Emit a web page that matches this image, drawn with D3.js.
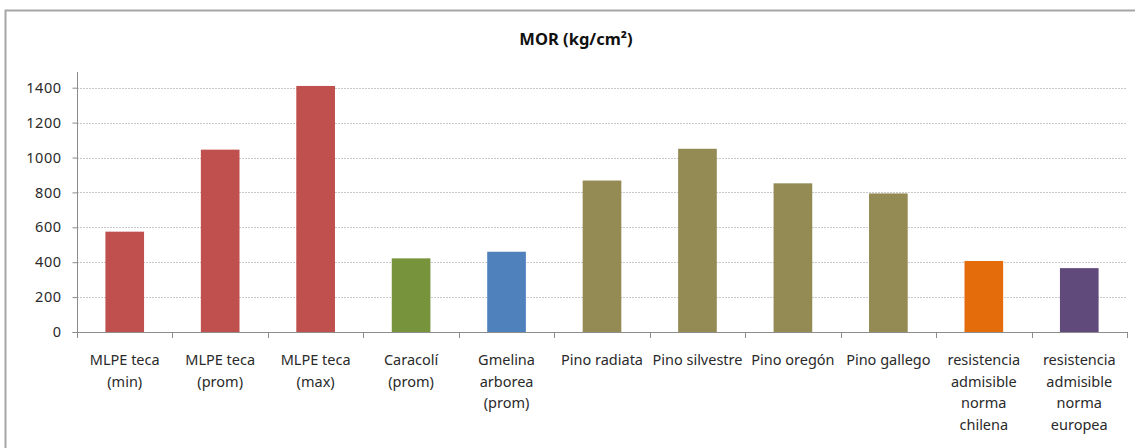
<!DOCTYPE html>
<html>
<head>
<meta charset="utf-8">
<script src="https://cdn.jsdelivr.net/npm/d3@7"></script>
<style>
  html, body { margin: 0; padding: 0; background: #fff; }
  svg { display: block; }
</style>
</head>
<body>
<svg id="chart" width="1135" height="448"></svg>
<script>
// Wood species and reference strengths (modulus of rupture)
const categories = [
  ["MLPE teca", "(min)"],
  ["MLPE teca", "(prom)"],
  ["MLPE teca", "(max)"],
  ["Caracolí", "(prom)"],
  ["Gmelina", "arborea", "(prom)"],
  ["Pino radiata"],
  ["Pino silvestre"],
  ["Pino oregón"],
  ["Pino gallego"],
  ["resistencia", "admisible", "norma", "chilena"],
  ["resistencia", "admisible", "norma", "europea"]
];
const values = [575, 1045, 1410, 422, 460, 868, 1050, 852, 794, 407, 366];
const colors = ["#C0504D", "#C0504D", "#C0504D", "#77933C", "#4F81BD",
                "#948A54", "#948A54", "#948A54", "#948A54", "#E46C0A", "#604A7B"];
const yTicks = [0, 200, 400, 600, 800, 1000, 1200, 1400];
const title = "MOR (kg/cm²)";

const svg = d3.select("#chart");
const font = "'Noto Sans', 'DejaVu Sans', sans-serif";

// outer chart frame (top and left edges visible)
svg.append("path")
  .attr("d", "M5.5,448 L5.5,10.5 L1135,10.5")
  .attr("fill", "none")
  .attr("stroke", "#a6a6a6")
  .attr("stroke-width", 2);

const left = 77, right = 1127, bottom = 332, axisTop = 72;

const x = d3.scaleBand()
  .domain(d3.range(categories.length))
  .range([left, right])
  .paddingInner(0.595)
  .paddingOuter(0.2975);

const band = d3.scaleBand()
  .domain(d3.range(categories.length))
  .range([left, right]);

const y = d3.scaleLinear()
  .domain([0, 1400])
  .range([bottom, bottom - 7 * 34.9]);

// dotted horizontal gridlines
svg.append("g")
  .selectAll("line")
  .data(yTicks.filter(d => d > 0))
  .join("line")
  .attr("x1", left)
  .attr("x2", right)
  .attr("y1", d => Math.round(y(d)) + 0.5)
  .attr("y2", d => Math.round(y(d)) + 0.5)
  .attr("stroke", "#c8c8c8")
  .attr("stroke-width", 1)
  .attr("stroke-dasharray", "2,1");

// bars
svg.append("g")
  .selectAll("rect")
  .data(values)
  .join("rect")
  .attr("x", (d, i) => x(i))
  .attr("width", x.bandwidth())
  .attr("y", d => y(d))
  .attr("height", d => bottom - y(d))
  .attr("fill", (d, i) => colors[i]);

// y axis
const yAxis = svg.append("g")
  .attr("transform", `translate(${left + 0.5},0)`)
  .call(d3.axisLeft(y).tickValues(yTicks).tickFormat(d3.format("d")).tickSize(5).tickPadding(11));
yAxis.select(".domain").attr("d", `M-5,${bottom + 0.5}H0V${axisTop}`);
yAxis.selectAll("line").attr("stroke", "#8c8c8c");
yAxis.select(".domain").attr("stroke", "#8c8c8c");
yAxis.selectAll("text")
  .attr("font-family", font)
  .attr("font-size", 14.5)
  .attr("letter-spacing", 0.5)
  .attr("fill", "#2a2a2a");

// x axis with category boundary ticks
const xAxisG = svg.append("g");
xAxisG.append("line")
  .attr("x1", left).attr("x2", right)
  .attr("y1", bottom + 0.5).attr("y2", bottom + 0.5)
  .attr("stroke", "#8c8c8c");
xAxisG.selectAll("line.tick")
  .data(d3.range(categories.length + 1))
  .join("line")
  .attr("class", "tick")
  .attr("x1", i => Math.round(left + i * band.bandwidth()) + 0.5)
  .attr("x2", i => Math.round(left + i * band.bandwidth()) + 0.5)
  .attr("y1", bottom)
  .attr("y2", bottom + 6)
  .attr("stroke", "#8c8c8c");

// category labels
const labels = svg.append("g")
  .attr("font-family", font)
  .attr("font-size", 14.5)
  .attr("fill", "#2a2a2a")
  .attr("text-anchor", "middle");
categories.forEach((lines, i) => {
  const t = labels.append("text")
    .attr("x", band(i) + band.bandwidth() / 2)
    .attr("y", 365);
  lines.forEach((ln, j) => {
    t.append("tspan")
      .attr("x", band(i) + band.bandwidth() / 2)
      .attr("dy", j === 0 ? 0 : 21.5)
      .text(ln);
  });
});

// title
svg.append("text")
  .attr("x", 576)
  .attr("y", 45)
  .attr("text-anchor", "middle")
  .attr("font-family", font)
  .attr("font-size", 16.5)
  .attr("font-weight", "bold")
  .attr("fill", "#111")
  .text(title);
</script>
</body>
</html>
